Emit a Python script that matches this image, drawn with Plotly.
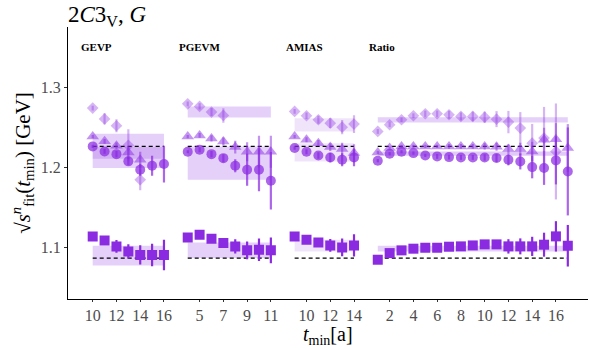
import plotly.graph_objects as go

PURPLE = "138,43,226"

# ---------------- data ----------------
panels = ["GEVP", "PGEVM", "AMIAS", "Ratio"]
x_ranges = [[7.92, 17.0], [3.0, 12.0], [8.0, 15.0], [0.0, 18.7]]
tick_vals = [[10, 12, 14, 16], [5, 7, 9, 11], [10, 12, 14], [2, 4, 6, 8, 10, 12, 14, 16]]

ref_upper = 1.2267
ref_lower = 1.0871

# GEVP
gevp_t = [10, 11, 12, 13, 14, 15, 16]
gevp_dia_t = [10, 11, 12, 13, 14]
gevp_dia = [1.2746, 1.261, 1.2525, 1.228, 1.185]
gevp_dia_err = [0.003, 0.007, 0.008, 0.02, 0.013]
gevp_tri_t = [10, 11, 12, 13, 14]
gevp_tri = [1.239, 1.233, 1.2275, 1.219, 1.21]
gevp_tri_err = [0.002, 0.003, 0.004, 0.008, 0.01]
gevp_cir = [1.2267, 1.2204, 1.217, 1.208, 1.1975, 1.2025, 1.2046]
gevp_cir_err = [0.002, 0.003, 0.004, 0.005, 0.0075, 0.0125, 0.023]
gevp_sq = [1.1142, 1.109, 1.1017, 1.0954, 1.091, 1.091, 1.091]
gevp_sq_err = [0.002, 0.003, 0.008, 0.009, 0.012, 0.014, 0.019]
gevp_bands = [[1.1996, 1.2425], [1.2113, 1.2259], [1.0779, 1.1025]]

# PGEVM
pgevm_t = [4, 5, 6, 7, 8, 9, 10, 11]
pgevm_dia_t = [4, 5, 6, 7]
pgevm_dia = [1.28, 1.2767, 1.2696, 1.2654]
pgevm_dia_err = [0.003, 0.004, 0.005, 0.009]
pgevm_tri = [1.239, 1.2404, 1.2367, 1.2329, 1.2258, 1.22, 1.22, 1.22]
pgevm_tri_err = [0.002, 0.003, 0.004, 0.005, 0.008, 0.012, 0.02, 0.02]
pgevm_cir = [1.22, 1.2225, 1.217, 1.212, 1.2025, 1.1975, 1.1975, 1.1837]
pgevm_cir_err = [0.002, 0.003, 0.004, 0.005, 0.008, 0.02, 0.027, 0.036]
pgevm_sq = [1.1129, 1.1163, 1.1113, 1.1058, 1.1017, 1.0967, 1.0975, 1.0967]
pgevm_sq_err = [0.002, 0.002, 0.003, 0.004, 0.009, 0.011, 0.014, 0.016]
pgevm_bands = [[1.2629, 1.2767], [1.185, 1.2267], [1.0871, 1.1067]]

# AMIAS
amias_t = [9, 10, 11, 12, 13, 14]
amias_dia = [1.2704, 1.265, 1.26, 1.2558, 1.2508, 1.2546]
amias_dia_err = [0.003, 0.004, 0.005, 0.006, 0.009, 0.011]
amias_tri = [1.239, 1.235, 1.2308, 1.2258, 1.2233, 1.2183]
amias_tri_err = [0.002, 0.003, 0.004, 0.005, 0.008, 0.011]
amias_cir = [1.2246, 1.22, 1.2154, 1.2129, 1.21, 1.2129]
amias_cir_err = [0.002, 0.003, 0.004, 0.006, 0.008, 0.011]
amias_sq = [1.1142, 1.11, 1.1067, 1.1029, 1.1004, 1.1029]
amias_sq_err = [0.002, 0.003, 0.004, 0.008, 0.011, 0.014]
amias_bands = [[1.2454, 1.262], [1.2079, 1.2308], [1.0954, 1.11]]

# Ratio
ratio_t = list(range(1, 18))
ratio_dia_t = list(range(1, 17))
ratio_dia = [1.2454, 1.2538, 1.26, 1.265, 1.2675, 1.2675, 1.2663, 1.2642, 1.2642,
             1.2633, 1.2608, 1.2571, 1.2496, 1.2308, 1.2371, 1.2204]
ratio_dia_err = [0.003, 0.003, 0.003, 0.003, 0.004, 0.004, 0.005, 0.005, 0.006,
                 0.007, 0.01, 0.014, 0.02, 0.024, 0.039, 0.06]
ratio_tri = [1.2192, 1.2246, 1.2267, 1.2267, 1.2267, 1.2267, 1.2267, 1.2267, 1.2267,
             1.2267, 1.2263, 1.2233, 1.2233, 1.2204, 1.235, 1.2358, 1.2246]
ratio_tri_err = [0.002, 0.002, 0.002, 0.002, 0.002, 0.002, 0.003, 0.003, 0.003,
                 0.004, 0.005, 0.006, 0.008, 0.012, 0.015, 0.02, 0.03]
ratio_cir = [1.2088, 1.2175, 1.22, 1.2183, 1.2154, 1.2142, 1.2133, 1.2129, 1.2129,
             1.2129, 1.2121, 1.21, 1.2079, 1.2008, 1.1996, 1.2092, 1.1954]
ratio_cir_err = [0.002, 0.002, 0.002, 0.002, 0.002, 0.003, 0.003, 0.003, 0.003,
                 0.004, 0.005, 0.007, 0.01, 0.014, 0.021, 0.03, 0.055]
ratio_sq = [1.085, 1.0933, 1.0967, 1.0988, 1.1, 1.1, 1.1013, 1.1017, 1.1029,
            1.1042, 1.1042, 1.1017, 1.1017, 1.1017, 1.1038, 1.1142, 1.1025]
ratio_sq_err = [0.001, 0.001, 0.002, 0.002, 0.002, 0.002, 0.003, 0.003, 0.003,
                0.004, 0.005, 0.009, 0.01, 0.012, 0.015, 0.019, 0.026]
ratio_bands = [[1.2567, 1.2633], [1.215, 1.2204], [1.0954, 1.1025]]

panel_data = [
    dict(t=gevp_t, dia_t=gevp_dia_t, dia=gevp_dia, dia_err=gevp_dia_err,
         tri_t=gevp_tri_t, tri=gevp_tri, tri_err=gevp_tri_err,
         cir=gevp_cir, cir_err=gevp_cir_err, sq=gevp_sq, sq_err=gevp_sq_err,
         bands=gevp_bands, band_alpha=[0.22, 0.2, 0.22]),
    dict(t=pgevm_t, dia_t=pgevm_dia_t, dia=pgevm_dia, dia_err=pgevm_dia_err,
         tri_t=pgevm_t, tri=pgevm_tri, tri_err=pgevm_tri_err,
         cir=pgevm_cir, cir_err=pgevm_cir_err, sq=pgevm_sq, sq_err=pgevm_sq_err,
         bands=pgevm_bands, band_alpha=[0.22, 0.22, 0.22]),
    dict(t=amias_t, dia_t=amias_t, dia=amias_dia, dia_err=amias_dia_err,
         tri_t=amias_t, tri=amias_tri, tri_err=amias_tri_err,
         cir=amias_cir, cir_err=amias_cir_err, sq=amias_sq, sq_err=amias_sq_err,
         bands=amias_bands, band_alpha=[0.13, 0.13, 0.13]),
    dict(t=ratio_t, dia_t=ratio_dia_t, dia=ratio_dia, dia_err=ratio_dia_err,
         tri_t=ratio_t, tri=ratio_tri, tri_err=ratio_tri_err,
         cir=ratio_cir, cir_err=ratio_cir_err, sq=ratio_sq, sq_err=ratio_sq_err,
         bands=ratio_bands, band_alpha=[0.22, 0.25, 0.22]),
]

# ---------------- figure ----------------
fig = go.Figure()

total = sum(r[1] - r[0] for r in x_ranges)
domains = []
acc = 0.0
for r in x_ranges:
    w = (r[1] - r[0]) / total
    domains.append([acc, min(acc + w, 1.0)])
    acc += w

FONT = "Liberation Serif"


def rgba(a):
    return f"rgba({PURPLE},{a})"


for i, d in enumerate(panel_data):
    xa = "x" if i == 0 else f"x{i + 1}"
    t0, t1 = d["t"][0], d["t"][-1]
    for (lo, hi), a in zip(d["bands"], d["band_alpha"]):
        fig.add_trace(go.Scatter(
            x=[t0, t1, t1, t0, t0], y=[lo, lo, hi, hi, lo], xaxis=xa, yaxis="y",
            mode="lines", fill="toself", fillcolor=rgba(a), line=dict(width=0),
            hoverinfo="skip", showlegend=False))
    for ref in (ref_upper, ref_lower):
        fig.add_trace(go.Scatter(
            x=[t0, t1], y=[ref, ref], xaxis=xa, yaxis="y", mode="lines",
            line=dict(color="black", width=1.3, dash="4px,3px"),
            hoverinfo="skip", showlegend=False))
    series = [
        (d["dia_t"], d["dia"], d["dia_err"], "diamond", 9, 0.35),
        (d["tri_t"], d["tri"], d["tri_err"], "triangle-up", 11, 0.5),
        (d["t"], d["cir"], d["cir_err"], "circle", 10, 0.72),
        (d["t"], d["sq"], d["sq_err"], "square", 10, 1.0),
    ]
    for xs, ys, es, sym, size, a in series:
        fig.add_trace(go.Scatter(
            x=xs, y=ys, xaxis=xa, yaxis="y", mode="markers",
            marker=dict(symbol=sym, size=size, color=rgba(a), line=dict(width=0)),
            error_y=dict(type="data", array=es, visible=True, width=0,
                         thickness=2.2, color=rgba(a)),
            showlegend=False))

layout = dict(
    width=589, height=350,
    margin=dict(l=68, r=1, t=27, b=51),
    plot_bgcolor="white", paper_bgcolor="white",
    font=dict(family=FONT, color="#4d4d4d", size=16),
    showlegend=False,
    yaxis=dict(
        range=[1.0359, 1.376], tickvals=[1.1, 1.2, 1.3],
        ticktext=["1.1", "1.2", "1.3"],
        showgrid=False, zeroline=False, showline=True, linecolor="black",
        linewidth=1, ticks="outside", ticklen=3, tickcolor="#333333",
        tickfont=dict(family=FONT, size=16, color="#4d4d4d"),
        title=dict(text="√<i>s</i><sup><i>n</i></sup><sub>fit</sub>(<i>t</i><sub>min</sub>) [GeV]",
                   font=dict(family=FONT, size=21, color="black"), standoff=4),
        anchor="x",
    ),
)
for i, (r, dom, tv) in enumerate(zip(x_ranges, domains, tick_vals)):
    key = "xaxis" if i == 0 else f"xaxis{i + 1}"
    layout[key] = dict(
        domain=dom, range=r, tickvals=tv, ticktext=[str(v) for v in tv],
        showgrid=False, zeroline=False, showline=True, linecolor="black",
        linewidth=1, ticks="outside", ticklen=2, tickcolor="#333333",
        tickfont=dict(family=FONT, size=16, color="#4d4d4d"),
        anchor="y",
    )
fig.update_layout(**layout)

# x-axis title
fig.add_annotation(text="<i>t</i><sub>min</sub>[a]", xref="paper", yref="paper",
                   x=0.5, y=-0.135, yanchor="middle", showarrow=False,
                   font=dict(family=FONT, size=20, color="black"))
# main title
fig.add_annotation(text="2<i>C</i>3<sub>V</sub>, <i>G</i>", xref="paper", yref="paper",
                   x=-0.003, y=1.0 + 27 / 272, xanchor="left", yanchor="top", yshift=0,
                   showarrow=False, font=dict(family=FONT, size=23, color="black"))
# facet labels
for i, name in enumerate(panels):
    xa = "x" if i == 0 else f"x{i + 1}"
    fig.add_annotation(text=f"<b>{name}</b>", xref=f"{xa} domain", yref="paper",
                       x=0.0, y=0.925, xanchor="left", yanchor="middle",
                       xshift=(11 if i == 0 else 1), showarrow=False,
                       font=dict(family=FONT, size=11, color="black"))

fig.write_html("out.html")
